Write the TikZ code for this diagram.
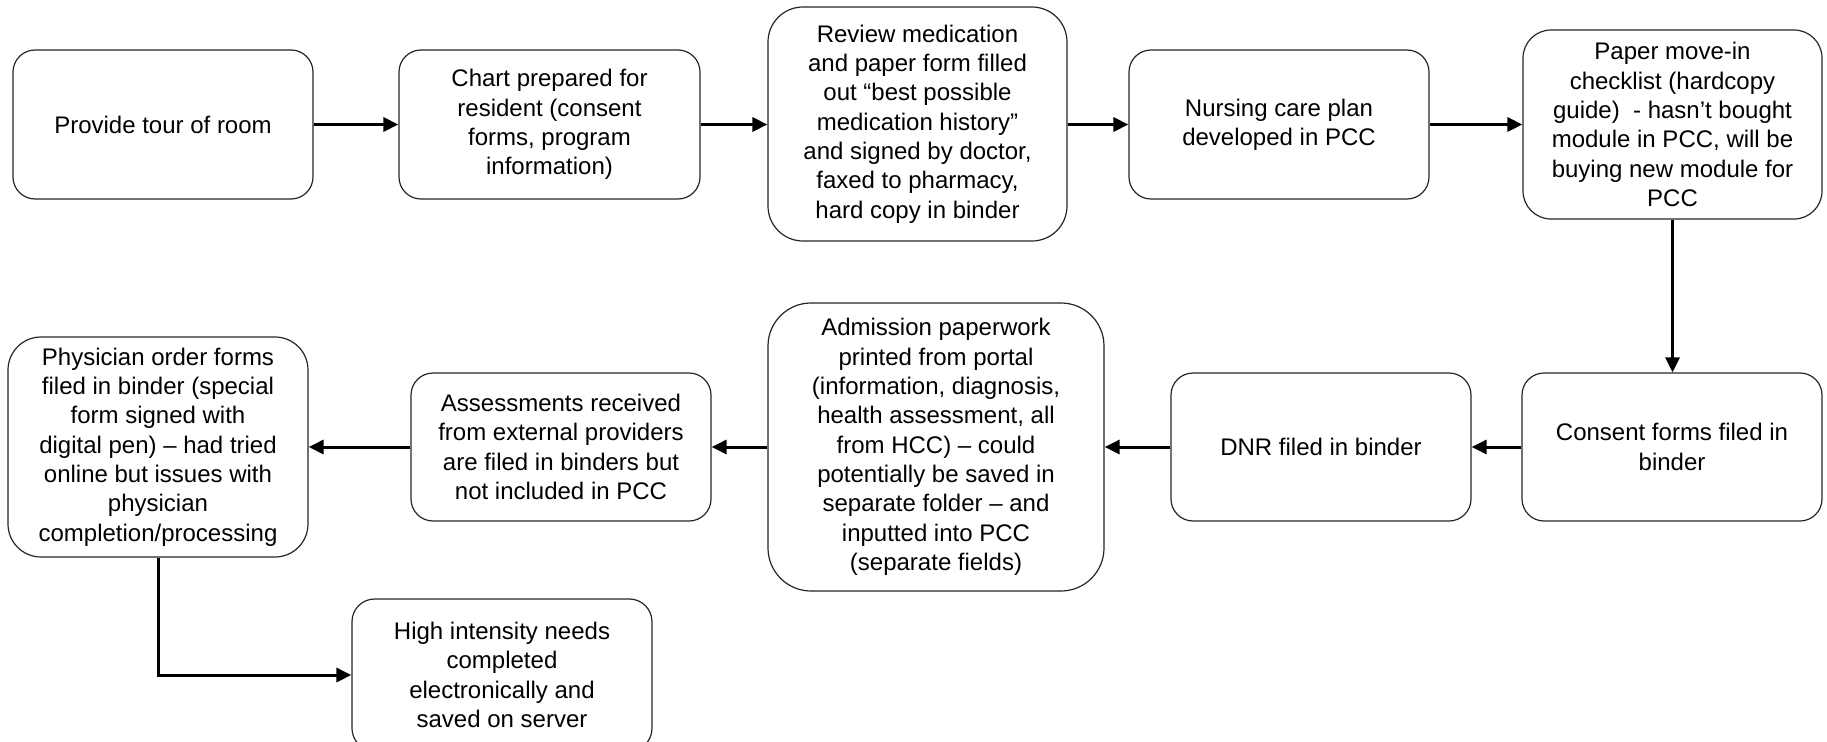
\documentclass[tikz,border=0pt]{standalone}
\usepackage{fontspec}
\setmainfont{Liberation Sans}
\usetikzlibrary{arrows.meta}
\begin{document}
\begin{tikzpicture}[x=0.75pt,y=-0.75pt,
  flowbox/.style={draw=black!85, line width=0.9pt, rounded corners=#1,
    fill=white, inner sep=0pt, align=center,
    font=\fontsize{18}{22}\selectfont},
  flowbox/.default=16.5pt,
  flow/.style={line width=2.25pt, -{Triangle[length=11.25pt,width=10.5pt]}}]
\useasboundingbox (0,0) rectangle (1827,742);
\clip (0,0) rectangle (1827,742);

% top row, left to right
\node[flowbox, minimum width=225pt, minimum height=111.75pt] (tour) at (163,124.5)
  {Provide tour of room};
\node[flowbox, minimum width=225.75pt, minimum height=111.75pt] (chart) at (549.5,124.5)
  {Chart prepared for\\resident (consent\\forms, program\\information)};
\node[flowbox=26.25pt, minimum width=224.25pt, minimum height=175.5pt] (review) at (917.5,124)
  {Review medication\\and paper form filled\\out “best possible\\medication history”\\and signed by doctor,\\faxed to pharmacy,\\hard copy in binder};
\node[flowbox, minimum width=225pt, minimum height=111.75pt] (care) at (1279,124.5)
  {Nursing care plan\\developed in PCC};
\node[flowbox=21pt, minimum width=224.25pt, minimum height=141.75pt] (check) at (1672.5,124.5)
  {Paper move-in\\checklist (hardcopy\\guide)\ \ - hasn’t bought\\module in PCC, will be\\buying new module for\\PCC};

% bottom row, right to left
\node[flowbox, minimum width=225pt, minimum height=111pt] (consent) at (1672,447)
  {Consent forms filed in\\binder};
\node[flowbox, minimum width=225pt, minimum height=111pt] (dnr) at (1321,447)
  {DNR filed in binder};
\node[flowbox=32.25pt, minimum width=252pt, minimum height=216pt] (admit) at (936,447)
  {Admission paperwork\\printed from portal\\(information, diagnosis,\\health assessment, all\\from HCC) – could\\potentially be saved in\\separate folder – and\\inputted into PCC\\(separate fields)};
\node[flowbox, minimum width=225pt, minimum height=111pt] (assess) at (561,447)
  {Assessments received\\from external providers\\are filed in binders but\\not included in PCC};
\node[flowbox=24.75pt, minimum width=225pt, minimum height=165pt] (phys) at (158,447)
  {Physician order forms\\filed in binder (special\\form signed with\\digital pen) – had tried\\online but issues with\\physician\\completion/processing};
\node[flowbox=17pt, minimum width=225pt, minimum height=114pt] (high) at (502,675)
  {High intensity needs\\completed\\electronically and\\saved on server};

% connectors
\draw[flow] (tour) -- (chart);
\draw[flow] (chart) -- (review.west |- chart);
\draw[flow] (review.east |- care) -- (care);
\draw[flow] (care) -- (check.west |- care);
\draw[flow] (check) -- (check |- consent.north);
\draw[flow] (consent) -- (dnr);
\draw[flow] (dnr) -- (admit.east |- dnr);
\draw[flow] (admit.west |- assess) -- (assess);
\draw[flow] (assess) -- (phys);
\draw[flow] (phys.south) |- (high.west);
\end{tikzpicture}
\end{document}
